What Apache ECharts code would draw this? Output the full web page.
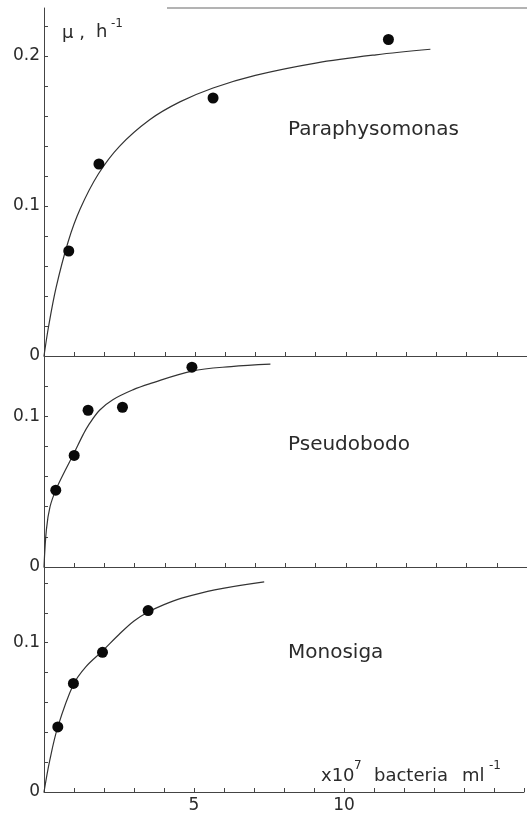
<!DOCTYPE html>
<html>
<head>
<meta charset="utf-8">
<script src="https://cdn.jsdelivr.net/npm/echarts@6/dist/echarts.min.js"></script>
<style>
html,body{margin:0;padding:0;background:#fff;}
#c{width:527px;height:816px;}
</style>
</head>
<body>
<div id="c"></div>
<script>
// ---- data ----
// Paraphysomonas (top panel)
var paraX = [0.82, 1.82, 5.6, 11.41];
var paraY = [0.070, 0.128, 0.172, 0.211];
var paraCurveX = [0, 0.15, 0.4, 0.8, 1.2, 1.8, 2.5, 3.5, 4.5, 5.6, 7, 9, 11, 12.8];
var paraCurveY = [0, 0.0195, 0.0456, 0.0762, 0.0981, 0.1213, 0.1398, 0.1575, 0.1694, 0.1787, 0.1871, 0.1953, 0.2008, 0.2045];
// Pseudobodo (middle panel)
var pseuX = [0.39, 1.0, 1.46, 2.6, 4.9];
var pseuY = [0.051, 0.074, 0.104, 0.106, 0.1326];
var pseuCurveX = [0, 0.08, 0.2, 0.39, 0.7, 0.98, 1.3, 1.47, 1.84, 2.28, 2.94, 3.49, 4.9, 6.2, 7.5];
var pseuCurveY = [0, 0.025, 0.04, 0.051, 0.064, 0.075, 0.088, 0.094, 0.104, 0.111, 0.1175, 0.1215, 0.130, 0.133, 0.1346];
// Monosiga (bottom panel)
var monoX = [0.46, 0.98, 1.95, 3.47];
var monoY = [0.0436, 0.0727, 0.0935, 0.1215];
var monoCurveX = [0, 0.19, 0.46, 0.98, 1.4, 1.95, 2.5, 3.0, 3.47, 4.0, 4.59, 5.69, 7.34];
var monoCurveY = [0, 0.021, 0.0436, 0.072, 0.084, 0.0945, 0.1055, 0.1145, 0.1205, 0.1255, 0.1298, 0.1354, 0.1407];
// axes
var yMax = [0.232, 0.14, 0.15];
var xTickLabels = [5, 10];
var yTickLabels = [0, 0.1, 0.2];
var panelNames = ['Paraphysomonas', 'Pseudobodo', 'Monosiga'];

function pairs(xs, ys){ return xs.map(function(x,i){ return [x, ys[i]]; }); }

var FONT = 'DejaVu Sans';
var TXT = '#2b2b2b';
var AX = '#444';

var grids = [
  {left:44, top:8, width:485, height:348},
  {left:44, top:356, width:485, height:211},
  {left:44, top:568, width:485, height:224}
];

var xAxes = grids.map(function(g,i){
  return {
    type:'value', gridIndex:i, min:0, max:16, interval:1,
    axisLine:{show:true, lineStyle:{color:AX, width:1}},
    axisTick:{show:true, inside:true, length:4, lineStyle:{color:AX, width:1}},
    splitLine:{show:false},
    axisLabel:{
      show: i===2, margin:5, fontFamily:FONT, fontSize:17, color:TXT,
      formatter:function(v){ return xTickLabels.indexOf(v) >= 0 ? String(v) : ''; }
    }
  };
});

var yAxes = grids.map(function(g,i){
  return {
    type:'value', gridIndex:i, min:0, max:yMax[i], interval:0.02,
    axisLine:{show:true, lineStyle:{color:AX, width:1}},
    axisTick:{show:true, inside:true, length:4, lineStyle:{color:AX, width:1}},
    splitLine:{show:false},
    axisLabel:{
      margin:4, fontFamily:FONT, fontSize:17, color:TXT,
      showMaxLabel:false,
      formatter:function(v){
        for (var k=0;k<yTickLabels.length;k++){
          if (Math.abs(v - yTickLabels[k]) < 1e-6) return yTickLabels[k]===0 ? '0' : yTickLabels[k].toFixed(1);
        }
        return '';
      }
    }
  };
});

function curve(idx, xs, ys){
  return {type:'line', xAxisIndex:idx, yAxisIndex:idx, data:pairs(xs,ys), smooth:0.35,
    showSymbol:false, symbol:'none', lineStyle:{color:'#333', width:1.2}, silent:true, z:2};
}
function dots(idx, xs, ys){
  return {type:'scatter', xAxisIndex:idx, yAxisIndex:idx, data:pairs(xs,ys), symbolSize:11,
    itemStyle:{color:'#0a0a0a', opacity:1}, silent:true, z:3};
}

function txt(s, x, y, size){
  return {type:'text', style:{text:s, x:x, y:y, font:size+'px "'+FONT+'"', fill:TXT, verticalAlign:'middle', align:'left'}, silent:true};
}

var chart = echarts.init(document.getElementById('c'), null, {renderer:'canvas'});
chart.setOption({
  animation:false,
  backgroundColor:'#fff',
  grid:grids,
  xAxis:xAxes,
  yAxis:yAxes,
  series:[
    curve(0, paraCurveX, paraCurveY), dots(0, paraX, paraY),
    curve(1, pseuCurveX, pseuCurveY), dots(1, pseuX, pseuY),
    curve(2, monoCurveX, monoCurveY), dots(2, monoX, monoY)
  ],
  graphic:[
    {type:'line', shape:{x1:167, y1:8, x2:527, y2:8}, style:{stroke:'#9a9a9a', lineWidth:1.5}, silent:true},
    txt(panelNames[0], 288, 130, 20),
    txt(panelNames[1], 288, 445, 20),
    txt(panelNames[2], 288, 653, 20),
    txt('\u03bc ,', 62, 33, 18),
    txt('h', 96, 32, 18),
    txt('-1', 111, 24, 12),
    txt('x10', 321, 776, 18),
    txt('7', 354, 766, 12),
    txt('bacteria', 374, 776, 18),
    txt('ml', 462, 776, 18),
    txt('-1', 489, 766, 12)
  ]
});
</script>
</body>
</html>
